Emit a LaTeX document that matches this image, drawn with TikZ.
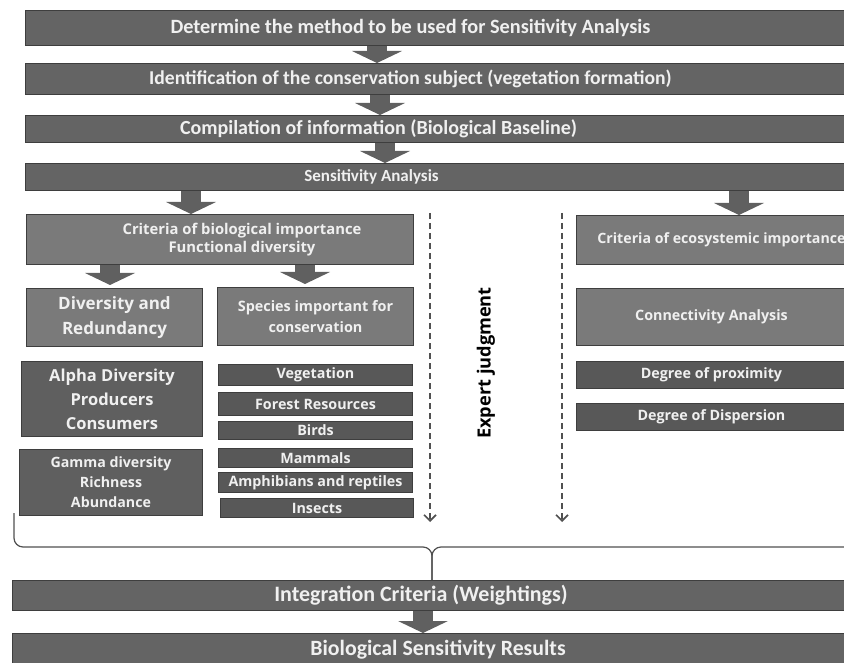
\documentclass[tikz,border=0pt]{standalone}
\usepackage{fontspec}
\setmainfont{Carlito}
\newfontfamily\boxfont{Open Sans}
\usetikzlibrary{arrows.meta}
\definecolor{barfill}{RGB}{100,100,100}
\definecolor{lightfill}{RGB}{122,122,122}
\definecolor{midfill}{RGB}{95,95,95}
\definecolor{darkfill}{RGB}{88,88,88}
\definecolor{boxline}{RGB}{62,62,62}
\definecolor{boxtext}{RGB}{240,240,240}
\definecolor{arrowgray}{RGB}{96,96,96}
\definecolor{dashgray}{RGB}{80,80,80}

\begin{document}
\begin{tikzpicture}[x=1pt,y=-1pt,
  box/.style={draw=boxline,line width=1pt,fill=#1,anchor=north west,inner sep=0pt,text=boxtext,align=center},
  bar/.style={box=barfill,minimum width=860pt},
  bartxt/.style={text=boxtext,font=\fontsize{#1}{#1}\selectfont\bfseries},
  boxtxt/.style={text=boxtext,align=center},
  fat/.style={draw=arrowgray,line width=20pt,-{Triangle[width=50pt,length=12pt,line width=0pt]}},
  judge/.style={draw=dashgray,line width=1.6pt,dash pattern=on 6pt off 4pt,-{Straight Barb[length=6pt,width=12pt]}},
  curly/.style={draw=dashgray,line width=1.2pt,rounded corners=9pt}]
 \useasboundingbox (0,0) rectangle (844,663);
 % main sequence
 \node[bar,minimum height=35pt,label={[bartxt=20.3,xshift=-45pt]center:Determine the method to be used for Sensitivity Analysis}] (method) at (25,10) {};
 \node[bar,minimum height=31pt,label={[bartxt=19.6,xshift=-45pt]center:Identification of the conservation subject (vegetation formation)}] (subject) at (25,63) {};
 \node[bar,minimum height=27pt,label={[bartxt=20,xshift=-77pt]center:Compilation of information (Biological Baseline)}] (baseline) at (25,115) {};
 \node[bar,minimum height=27pt,label={[bartxt=17,xshift=-84pt]center:Sensitivity Analysis}] (sens) at (25,163) {};
 \draw[fat] (377,0 |- method.south) -- (377,0 |- subject.north);
 \draw[fat] (380,0 |- subject.south) -- (380,0 |- baseline.north);
 \draw[fat] (385,0 |- baseline.south) -- (385,0 |- sens.north);
 % biological importance
 \node[box=lightfill,minimum width=387pt,minimum height=50pt,label={[boxtxt,xshift=22pt,font=\boxfont\bfseries\fontsize{14.8}{18}\selectfont]center:Criteria of biological importance\\Functional diversity}] (critbio) at (26,214) {};
 \node[box=lightfill,minimum width=176pt,minimum height=58pt,font=\boxfont\bfseries\fontsize{17}{25}\selectfont] (divred) at (26,288) {Diversity and\\Redundancy};
 \node[box=lightfill,minimum width=196pt,minimum height=58pt,font=\boxfont\bfseries\fontsize{14.4}{21}\selectfont] (species) at (217,287) {Species important for\\conservation};
 \node[box=midfill,minimum width=181pt,minimum height=75pt,font=\boxfont\bfseries\fontsize{16.5}{24}\selectfont] (alpha) at (21,361) {Alpha Diversity\\Producers\\Consumers};
 \node[box=midfill,minimum width=183pt,minimum height=66pt,font=\boxfont\bfseries\fontsize{14.2}{20}\selectfont] (gamma) at (19,449) {Gamma diversity\\Richness\\Abundance};
 \node[box=darkfill,minimum width=194pt,minimum height=21pt,font=\boxfont\bfseries\fontsize{14.3}{17}\selectfont] (veg) at (218,364) {Vegetation};
 \node[box=darkfill,minimum width=194pt,minimum height=23pt,font=\boxfont\bfseries\fontsize{14.3}{17}\selectfont] (forest) at (218,392) {Forest Resources};
 \node[box=darkfill,minimum width=194pt,minimum height=18pt,font=\boxfont\bfseries\fontsize{14.3}{17}\selectfont] (birds) at (218,421) {Birds};
 \node[box=darkfill,minimum width=194pt,minimum height=19pt,font=\boxfont\bfseries\fontsize{14.3}{17}\selectfont] (mammals) at (218,448) {Mammals};
 \node[box=darkfill,minimum width=194pt,minimum height=20pt,font=\boxfont\bfseries\fontsize{14.3}{17}\selectfont] (amphib) at (218,472) {Amphibians and reptiles};
 \node[box=darkfill,minimum width=193pt,minimum height=19pt,font=\boxfont\bfseries\fontsize{14.3}{17}\selectfont] (insects) at (220,498) {Insects};
 \draw[fat] (191,0 |- sens.south) -- (191,0 |- critbio.north);
 \draw[fat,shorten >=3pt] (110,0 |- critbio.south) -- (110,0 |- divred.north);
 \draw[fat,shorten >=3pt] (305,0 |- critbio.south) -- (305,0 |- species.north);
 % expert judgment
 \node[rotate=90,font=\boxfont\bfseries\fontsize{18.2}{22}\selectfont] (expert) at (486,363) {Expert judgment};
 \coordinate (ejtopl) at (430,213); \coordinate (ejbotl) at (430,522);
 \coordinate (ejtopr) at (562,213); \coordinate (ejbotr) at (562,522);
 \draw[judge] (ejtopl) -- (ejbotl);
 \draw[judge] (ejtopr) -- (ejbotr);
 % ecosystemic importance
 \node[box=lightfill,minimum width=290pt,minimum height=49pt,font=\boxfont\bfseries\fontsize{14.2}{17}\selectfont] (criteco) at (576,215) {Criteria of ecosystemic importance};
 \node[box=lightfill,minimum width=270pt,minimum height=57pt,font=\boxfont\bfseries\fontsize{14.3}{17}\selectfont] (connect) at (576,288) {Connectivity Analysis};
 \node[box=darkfill,minimum width=270pt,minimum height=27pt,font=\boxfont\bfseries\fontsize{14.3}{17}\selectfont] (proxim) at (576,361) {Degree of proximity};
 \node[box=darkfill,minimum width=270pt,minimum height=27pt,font=\boxfont\bfseries\fontsize{14.3}{17}\selectfont] (dispers) at (576,403) {Degree of Dispersion};
 \draw[fat] (739,0 |- sens.south) -- (739,0 |- criteco.north);
 % integration
 \node[bar,minimum width=873pt,minimum height=30pt,label={[bartxt=22,xshift=-28pt]center:Integration Criteria (Weightings)}] (integ) at (12,580) {};
 \node[bar,minimum width=873pt,minimum height=32pt,label={[bartxt=21.8,xshift=-11pt]center:Biological Sensitivity Results}] (result) at (12,633) {};
 \draw[curly] (14,513) -- (14,547) -- (432,547) -- (432,0 |- integ.north);
 \draw[curly] (860,513) -- (860,547) -- (432,547) -- (432,0 |- integ.north);
 \draw[fat] (423,0 |- integ.south) -- (423,0 |- result.north);
\end{tikzpicture}
\end{document}
